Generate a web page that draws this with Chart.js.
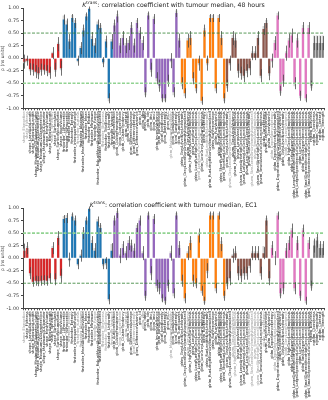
<!DOCTYPE html>
<html>
<head>
<meta charset="utf-8">
<script src="https://cdn.jsdelivr.net/npm/chart.js@4.4.1/dist/chart.umd.min.js"></script>
<style>
  html, body { margin: 0; padding: 0; background: #fff; overflow: hidden; }
  canvas { display: block; }
</style>
</head>
<body>
<canvas id="chartTop" width="328" height="200"></canvas>
<canvas id="chartBot" width="328" height="200"></canvas>
<script>
// feature names, grouped by feature class
const shapeNames = ["Elongation","Flatness","LeastAxisLength","MajorAxisLength","Maximum2DDiameterColumn","Maximum2DDiameterRow","Maximum2DDiameterSlice","Maximum3DDiameter","MeshVolume","MinorAxisLength","Sphericity","SurfaceArea","SurfaceVolumeRatio","VoxelVolume"];
const firstorderNames = ["10Percentile","90Percentile","Energy","Entropy","InterquartileRange","Kurtosis","Maximum","MeanAbsoluteDeviation","Mean","Median","Minimum","Range","RobustMeanAbsoluteDeviation","RootMeanSquared","Skewness","TotalEnergy","Uniformity","Variance"];
const glcmNames = ["Autocorrelation","ClusterProminence","ClusterShade","ClusterTendency","Contrast","Correlation","DifferenceAverage","DifferenceEntropy","DifferenceVariance","Id","Idm","Idmn","Idn","Imc1","Imc2","InverseVariance","JointAverage","JointEnergy","JointEntropy","MCC","MaximumProbability","SumAverage","SumEntropy","SumSquares"];
const glrlmNames = ["GrayLevelNonUniformity","GrayLevelNonUniformityNormalized","GrayLevelVariance","HighGrayLevelRunEmphasis","LongRunEmphasis","LongRunHighGrayLevelEmphasis","LongRunLowGrayLevelEmphasis","LowGrayLevelRunEmphasis","RunEntropy","RunLengthNonUniformity","RunLengthNonUniformityNormalized","RunPercentage","RunVariance","ShortRunEmphasis","ShortRunHighGrayLevelEmphasis","ShortRunLowGrayLevelEmphasis"];
const glszmNames = ["GrayLevelNonUniformity","GrayLevelNonUniformityNormalized","GrayLevelVariance","HighGrayLevelZoneEmphasis","LargeAreaEmphasis","LargeAreaHighGrayLevelEmphasis","LargeAreaLowGrayLevelEmphasis","LowGrayLevelZoneEmphasis","SizeZoneNonUniformity","SizeZoneNonUniformityNormalized","SmallAreaEmphasis","SmallAreaHighGrayLevelEmphasis","SmallAreaLowGrayLevelEmphasis","ZoneEntropy","ZonePercentage","ZoneVariance"];
const gldmNames = ["DependenceEntropy","DependenceNonUniformity","DependenceNonUniformityNormalized","DependenceVariance","GrayLevelNonUniformity","GrayLevelVariance","HighGrayLevelEmphasis","LargeDependenceEmphasis","LargeDependenceHighGrayLevelEmphasis","LargeDependenceLowGrayLevelEmphasis","LowGrayLevelEmphasis","SmallDependenceEmphasis","SmallDependenceHighGrayLevelEmphasis","SmallDependenceLowGrayLevelEmphasis"];
const ngtdmNames = ["Busyness","Coarseness","Complexity","Contrast","Strength"];

const groups = ["shape","firstorder","glcm","glrlm","glszm","gldm","ngtdm"];
const groupColors = ["#d62728","#1f77b4","#9467bd","#ff7f0e","#8c564b","#e377c2","#7f7f7f"];

// 48 hours: correlation (median), bootstrap bar, error half-width
const topRho = [
  [-0.07,-0.05,-0.22,-0.23,-0.27,-0.30,-0.23,-0.23,-0.25,-0.29,0.10,-0.23,0.28,-0.20],
  [0.77,0.67,0.33,0.80,0.70,-0.05,0.20,0.55,0.83,0.98,0.38,0.25,0.67,0.60,-0.08,0.33,-0.80,0.33],
  [0.65,0.83,0.25,0.40,0.25,0.30,0.60,0.25,0.70,0.50,0.30,-0.68,0.85,-0.23,0.78,-0.40,-0.55,-0.80,-0.80,-0.45,-0.05,-0.68,0.90,0.35],
  [-0.50,-0.70,0.35,0.40,-0.40,-0.60,-0.10,-0.85,0.55,-0.10,0.80,0.80,-0.60,0.80,0.40,-0.80],
  [-0.55,-0.10,0.40,0.35,-0.25,-0.30,-0.35,-0.25,-0.20,0.10,0.10,0.40,-0.35,0.58,0.70,-0.30],
  [-0.05,0.30,0.85,-0.65,-0.45,0.10,0.35,0.45,-0.50,0.35,-0.75,0.60,-0.80,0.60],
  [-0.55,0.30,0.30,0.30,0.30]
];
const topBoot = [
  [-0.10,-0.08,-0.26,-0.27,-0.30,-0.34,-0.27,-0.26,-0.29,-0.33,0.13,-0.27,0.31,-0.24],
  [0.85,0.75,0.38,0.86,0.76,-0.08,0.24,0.60,0.88,1.00,0.44,0.30,0.73,0.66,-0.11,0.38,-0.86,0.38],
  [0.70,0.88,0.30,0.46,0.30,0.36,0.66,0.30,0.76,0.55,0.36,-0.74,0.90,-0.28,0.83,-0.46,-0.60,-0.86,-0.86,-0.50,-0.08,-0.74,0.95,0.40],
  [-0.56,-0.76,0.40,0.46,-0.46,-0.66,-0.14,-0.90,0.60,-0.14,0.86,0.86,-0.66,0.86,0.46,-0.86],
  [-0.60,-0.14,0.46,0.40,-0.30,-0.35,-0.40,-0.30,-0.24,0.14,0.14,0.46,-0.40,0.64,0.76,-0.35],
  [-0.08,0.36,0.90,-0.70,-0.50,0.14,0.40,0.50,-0.56,0.40,-0.80,0.66,-0.85,0.66],
  [-0.60,0.45,0.45,0.45,0.45]
];
const topErr = [
  [0.14,0.10,0.12,0.12,0.13,0.12,0.12,0.10,0.11,0.12,0.12,0.14,0.14,0.15],
  [0.10,0.12,0.15,0.08,0.10,0.10,0.12,0.12,0.08,0.05,0.14,0.15,0.10,0.10,0.10,0.12,0.10,0.15],
  [0.12,0.12,0.15,0.14,0.15,0.14,0.12,0.14,0.10,0.12,0.14,0.10,0.08,0.14,0.10,0.12,0.12,0.08,0.08,0.12,0.15,0.10,0.08,0.14],
  [0.12,0.10,0.14,0.14,0.12,0.10,0.15,0.08,0.12,0.15,0.08,0.08,0.10,0.08,0.14,0.10],
  [0.12,0.15,0.14,0.14,0.14,0.13,0.13,0.13,0.14,0.14,0.14,0.14,0.13,0.12,0.10,0.14],
  [0.14,0.14,0.08,0.10,0.12,0.15,0.14,0.14,0.12,0.14,0.10,0.12,0.08,0.12],
  [0.10,0.14,0.14,0.14,0.14]
];

// EC1
const botRho = [
  [0.15,0.20,-0.30,-0.47,-0.45,-0.46,-0.45,-0.44,-0.45,-0.40,0.20,-0.42,0.40,-0.35],
  [0.78,0.80,-0.03,0.83,0.75,-0.12,0.05,0.50,0.75,0.98,0.30,0.15,0.73,0.60,-0.12,-0.10,-0.82,0.15],
  [0.75,0.90,0.05,0.20,0.10,0.30,0.25,0.15,0.60,0.75,0.10,-0.75,0.85,-0.30,0.78,-0.55,-0.60,-0.80,-0.85,-0.55,0.10,-0.70,0.85,0.20],
  [-0.45,-0.80,0.10,0.30,-0.45,-0.50,0.45,-0.65,-0.85,-0.25,0.85,0.85,-0.60,0.85,0.28,-0.75],
  [-0.50,-0.40,0.05,0.10,-0.30,-0.35,-0.30,-0.30,-0.15,0.10,0.10,0.10,-0.30,0.10,0.75,-0.40],
  [0.20,0.00,0.85,-0.70,-0.60,0.15,0.30,0.55,-0.60,0.30,-0.75,0.55,-0.85,0.30],
  [-0.55,0.25,0.35,0.20,0.20]
];
const botBoot = [
  [0.19,0.24,-0.35,-0.50,-0.49,-0.50,-0.49,-0.48,-0.49,-0.45,0.24,-0.46,0.44,-0.40],
  [0.84,0.86,-0.06,0.88,0.80,-0.15,0.08,0.56,0.80,1.00,0.36,0.20,0.78,0.66,-0.16,-0.14,-0.86,0.28],
  [0.80,0.94,0.08,0.28,0.14,0.36,0.30,0.20,0.66,0.80,0.14,-0.80,0.90,-0.34,0.84,-0.60,-0.66,-0.86,-0.90,-0.60,0.14,-0.76,0.90,0.26],
  [-0.50,-0.86,0.14,0.36,-0.50,-0.56,0.50,-0.70,-0.90,-0.30,0.90,0.90,-0.66,0.90,0.34,-0.80],
  [-0.56,-0.46,0.08,0.14,-0.35,-0.40,-0.35,-0.36,-0.20,0.14,0.14,0.14,-0.36,0.24,0.80,-0.46],
  [0.26,0.04,0.90,-0.76,-0.66,0.20,0.36,0.60,-0.66,0.36,-0.80,0.60,-0.90,0.36],
  [-0.60,0.35,0.42,0.28,0.28]
];
const botErr = [
  [0.14,0.12,0.12,0.10,0.10,0.10,0.10,0.10,0.10,0.10,0.12,0.12,0.14,0.14],
  [0.08,0.10,0.14,0.08,0.10,0.10,0.12,0.12,0.08,0.05,0.14,0.15,0.10,0.10,0.10,0.12,0.10,0.15],
  [0.10,0.10,0.15,0.14,0.14,0.14,0.12,0.14,0.10,0.10,0.14,0.10,0.08,0.14,0.10,0.12,0.12,0.08,0.08,0.12,0.15,0.10,0.08,0.14],
  [0.12,0.10,0.14,0.14,0.12,0.10,0.14,0.10,0.08,0.15,0.08,0.08,0.10,0.08,0.14,0.10],
  [0.12,0.14,0.14,0.14,0.14,0.13,0.13,0.13,0.14,0.14,0.14,0.14,0.13,0.12,0.10,0.14],
  [0.14,0.14,0.08,0.10,0.12,0.15,0.14,0.14,0.12,0.14,0.10,0.12,0.08,0.12],
  [0.10,0.14,0.14,0.14,0.14]
];

const namesByGroup = [shapeNames, firstorderNames, glcmNames, glrlmNames, glszmNames, gldmNames, ngtdmNames];
const labels = namesByGroup.flatMap((names, g) => names.map(n => groups[g] + "_" + n));
const barColors = namesByGroup.flatMap((names, g) => names.map(() => groupColors[g]));

// error bars + reference lines, drawn in data space
const extrasPlugin = {
  id: "extras",
  afterDatasetsDraw(chart, args, opts) {
    const { ctx, chartArea: a, scales: { x, y } } = chart;
    ctx.save();
    // error bars
    ctx.strokeStyle = "rgba(70,70,70,0.85)";
    ctx.lineWidth = 0.9;
    opts.rho.forEach((v, i) => {
      const px = Math.round(x.getPixelForValue(i)) + 0.5;
      ctx.beginPath();
      ctx.moveTo(px, y.getPixelForValue(v - opts.err[i]));
      ctx.lineTo(px, y.getPixelForValue(v + opts.err[i]));
      ctx.stroke();
    });
    // dashed reference lines
    opts.lines.forEach(l => {
      const py = y.getPixelForValue(l.y);
      ctx.strokeStyle = l.color;
      ctx.lineWidth = l.width;
      ctx.setLineDash([3, 1.5]);
      ctx.beginPath();
      ctx.moveTo(a.left, py);
      ctx.lineTo(a.right, py);
      ctx.stroke();
    });
    ctx.setLineDash([]);
    // title with superscript
    const cx = (a.left + a.right) / 2;
    ctx.fillStyle = "#222";
    ctx.textBaseline = "alphabetic";
    const main = "K", sup = "trans", rest = ": correlation coefficient with tumour median, " + opts.when;
    ctx.font = "6.2px 'DejaVu Sans'";
    const wK = ctx.measureText(main).width, wR = ctx.measureText(rest).width;
    ctx.font = "4.3px 'DejaVu Sans'";
    const wS = ctx.measureText(sup).width;
    let sx = cx - (wK + wS + wR) / 2;
    const base = a.top - 1.5;
    ctx.font = "italic 6.2px 'DejaVu Sans'";
    ctx.fillText(main, sx, base); sx += wK;
    ctx.font = "4.3px 'DejaVu Sans'";
    ctx.fillText(sup, sx, base - 2.8); sx += wS;
    ctx.font = "6.2px 'DejaVu Sans'";
    ctx.fillText(rest, sx, base);
    ctx.restore();
  }
};

function makeChart(id, rhoGroups, bootGroups, errGroups, when, lines) {
  const rho = rhoGroups.flat();
  const boot = bootGroups.flat();
  const err = errGroups.flat();
  return new Chart(document.getElementById(id), {
    type: "bar",
    data: {
      labels,
      datasets: [
        { data: rho, backgroundColor: barColors, order: 1, grouped: false,
          barPercentage: 0.8, categoryPercentage: 1.0 },
        { data: boot, backgroundColor: "#d4d4d4", order: 2, grouped: false,
          barPercentage: 0.8, categoryPercentage: 1.0 }
      ]
    },
    options: {
      responsive: false,
      animation: false,
      devicePixelRatio: 1,
      layout: { padding: { top: 8, right: 0, left: 0, bottom: 0 } },
      plugins: {
        legend: { display: false },
        tooltip: { enabled: false },
        extras: { rho, err, when, lines }
      },
      scales: {
        x: {
          ticks: {
            autoSkip: false, maxRotation: 90, minRotation: 90, padding: 1,
            font: { family: "DejaVu Sans", size: 3.6 },
            color: c => Math.abs(rho[c.index]) >= 0.2 ? "#222" : "#9a9a9a"
          },
          grid: { drawOnChartArea: false, tickLength: 2, color: "#555" },
          border: { color: "#444" },
          afterFit: s => { s.height = 91.7; }
        },
        y: {
          min: -1, max: 1,
          ticks: {
            stepSize: 0.25, padding: 2,
            font: { family: "DejaVu Sans", size: 4.8 }, color: "#333",
            callback: v => v.toFixed(2)
          },
          grid: { drawOnChartArea: false, tickLength: 2, color: "#444" },
          border: { color: "#444" },
          title: { display: true, text: "ρ (ns units)", color: "#333", padding: 0,
                   font: { family: "DejaVu Sans", size: 4.5 } },
          afterFit: s => { s.width = 23; }
        }
      }
    },
    plugins: [extrasPlugin]
  });
}

makeChart("chartTop", topRho, topBoot, topErr, "48 hours", [
  { y: 0.5, color: "#2f7f2f", width: 0.8 },
  { y: -0.5, color: "#92d392", width: 1.6 }
]);
makeChart("chartBot", botRho, botBoot, botErr, "EC1", [
  { y: 0.5, color: "#92d392", width: 1.6 },
  { y: -0.5, color: "#2f7f2f", width: 0.8 }
]);
</script>
</body>
</html>
